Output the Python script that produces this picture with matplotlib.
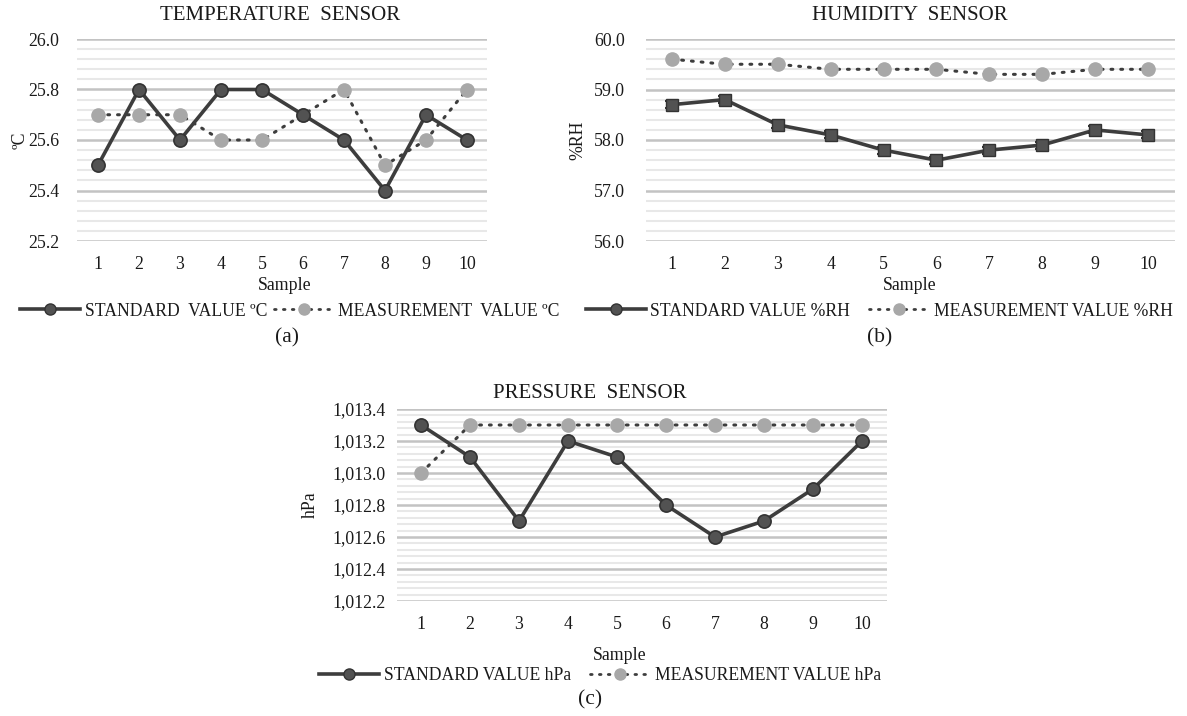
import matplotlib
matplotlib.use("Agg")
import matplotlib.pyplot as plt
from matplotlib.ticker import MultipleLocator, FuncFormatter
from matplotlib.lines import Line2D

plt.rcParams['font.family'] = ['Liberation Serif', 'DejaVu Serif']

samples = [1, 2, 3, 4, 5, 6, 7, 8, 9, 10]

temp_standard = [25.5, 25.8, 25.6, 25.8, 25.8, 25.7, 25.6, 25.4, 25.7, 25.6]
temp_measured = [25.7, 25.7, 25.7, 25.6, 25.6, 25.7, 25.8, 25.5, 25.6, 25.8]

hum_standard = [58.7, 58.8, 58.3, 58.1, 57.8, 57.6, 57.8, 57.9, 58.2, 58.1]
hum_measured = [59.6, 59.5, 59.5, 59.4, 59.4, 59.4, 59.3, 59.3, 59.4, 59.4]

pres_standard = [1013.3, 1013.1, 1012.7, 1013.2, 1013.1, 1012.8, 1012.6, 1012.7, 1012.9, 1013.2]
pres_measured = [1013.0, 1013.3, 1013.3, 1013.3, 1013.3, 1013.3, 1013.3, 1013.3, 1013.3, 1013.3]

W, H = 1187, 716
fig = plt.figure(figsize=(W / 100, H / 100), dpi=100)

DARK = '#3d3d3d'
MARK_DARK = '#525252'
LIGHT = '#a8a8a8'
GRID_MAJOR = '#c3c3c3'
GRID_MINOR = '#e8e8e8'
TXT = '#1a1a1a'
DOTS = (0, (0.6, 2.6))


def px_axes(x0, x1, ytop, ybot):
    return fig.add_axes([x0 / W, 1 - ybot / H, (x1 - x0) / W, (ybot - ytop) / H])


def style_axes(ax, ymin, ymax, major, minor, fmt, ypad):
    ax.set_xlim(0.5, 10.5)
    ax.set_ylim(ymin, ymax)
    ax.set_xticks(samples)
    ax.yaxis.set_major_locator(MultipleLocator(major))
    ax.yaxis.set_minor_locator(MultipleLocator(minor))
    ax.yaxis.set_major_formatter(FuncFormatter(fmt))
    for s in ax.spines.values():
        s.set_visible(False)
    ax.tick_params(axis='both', which='both', length=0, labelsize=12.8, colors=TXT)
    ax.tick_params(axis='y', pad=ypad)
    ax.tick_params(axis='x', pad=11)
    ax.grid(True, axis='y', which='minor', color=GRID_MINOR, lw=1.5)
    ax.grid(True, axis='y', which='major', color=GRID_MAJOR, lw=1.8)
    ax.set_axisbelow(True)


def draw_series(ax, std, meas, square=False):
    ax.plot(samples, meas, color=DARK, lw=2.2, ls=DOTS, dash_capstyle='round', zorder=3)
    ax.plot(samples, meas, ls='none', marker='o', ms=9.5, mfc=LIGHT, mec=LIGHT, zorder=4)
    ax.plot(samples, std, color=DARK, lw=2.6, zorder=5)
    if square:
        ax.errorbar(samples, std, yerr=0.07, fmt='s', ms=8, mfc=MARK_DARK, mec='#333333',
                    ecolor='#333333', elinewidth=1.5, capsize=5, capthick=1.5, zorder=6)
    else:
        ax.plot(samples, std, ls='none', marker='o', ms=9.5, mfc=MARK_DARK,
                mec='#333333', mew=1.2, zorder=6)


def add_legend(labels, cx, cy, colspace):
    h1 = Line2D([], [], color=DARK, lw=2.6, marker='o', ms=8, mfc=MARK_DARK, mec='#333333')
    h2 = Line2D([], [], color=DARK, lw=2.0, ls=DOTS, marker='o', ms=8,
                mfc=LIGHT, mec=LIGHT, dash_capstyle='round')
    fig.legend([h1, h2], labels, loc='center', bbox_to_anchor=(cx / W, 1 - cy / H), ncol=2,
               frameon=False, fontsize=12.7, handlelength=3.4, handletextpad=0.25,
               columnspacing=colspace, labelcolor=TXT, borderpad=0, borderaxespad=0)


one_dec = lambda v, p: f'{v:.1f}'
comma_dec = lambda v, p: f'{v:,.1f}'

# (a) temperature
ax_a = px_axes(77.5, 487.5, 39, 241)
style_axes(ax_a, 25.2, 26.0, 0.2, 0.04, one_dec, 13)
draw_series(ax_a, temp_standard, temp_measured)
fig.text(280 / W, 1 - 16 / H, 'TEMPERATURE  SENSOR', ha='center', va='center',
         fontsize=15, color=TXT)
fig.text(20 / W, 1 - 140 / H, 'ºC', ha='center', va='center', rotation=90,
         fontsize=12.8, color=TXT)
fig.text(285 / W, 1 - 285 / H, 'Sample', ha='center', va='center', fontsize=12.8, color=TXT)
add_legend(['STANDARD  VALUE ºC', 'MEASUREMENT  VALUE ºC'], 290, 311, 0.4)
fig.text(287 / W, 1 - 338 / H, '(a)', ha='center', va='center', fontsize=15.5, color=TXT)

# (b) humidity
ax_b = px_axes(645.5, 1174.5, 39, 241)
style_axes(ax_b, 56.0, 60.0, 1.0, 0.2, one_dec, 15)
draw_series(ax_b, hum_standard, hum_measured, square=True)
fig.text(910 / W, 1 - 16 / H, 'HUMIDITY  SENSOR', ha='center', va='center',
         fontsize=15, color=TXT)
fig.text(578 / W, 1 - 140 / H, '%RH', ha='center', va='center', rotation=90,
         fontsize=12.8, color=TXT)
fig.text(910 / W, 1 - 285 / H, 'Sample', ha='center', va='center', fontsize=12.8, color=TXT)
add_legend(['STANDARD VALUE %RH', 'MEASUREMENT VALUE %RH'], 879, 311, 1.1)
fig.text(880 / W, 1 - 338 / H, '(b)', ha='center', va='center', fontsize=15.5, color=TXT)

# (c) pressure
ax_c = px_axes(396.5, 886.5, 409, 601)
style_axes(ax_c, 1012.2, 1013.4, 0.2, 0.04, comma_dec, 8)
draw_series(ax_c, pres_standard, pres_measured)
fig.text(590 / W, 1 - 393 / H, 'PRESSURE  SENSOR', ha='center', va='center',
         fontsize=15, color=TXT)
fig.text(310 / W, 1 - 505 / H, 'hPa', ha='center', va='center', rotation=90,
         fontsize=12.8, color=TXT)
fig.text(620 / W, 1 - 655 / H, 'Sample', ha='center', va='center', fontsize=12.8, color=TXT)
add_legend(['STANDARD VALUE hPa', 'MEASUREMENT VALUE hPa'], 600, 676, 1.1)
fig.text(590 / W, 1 - 700 / H, '(c)', ha='center', va='center', fontsize=15.5, color=TXT)

fig.savefig('out.png', dpi=100, facecolor='white')
